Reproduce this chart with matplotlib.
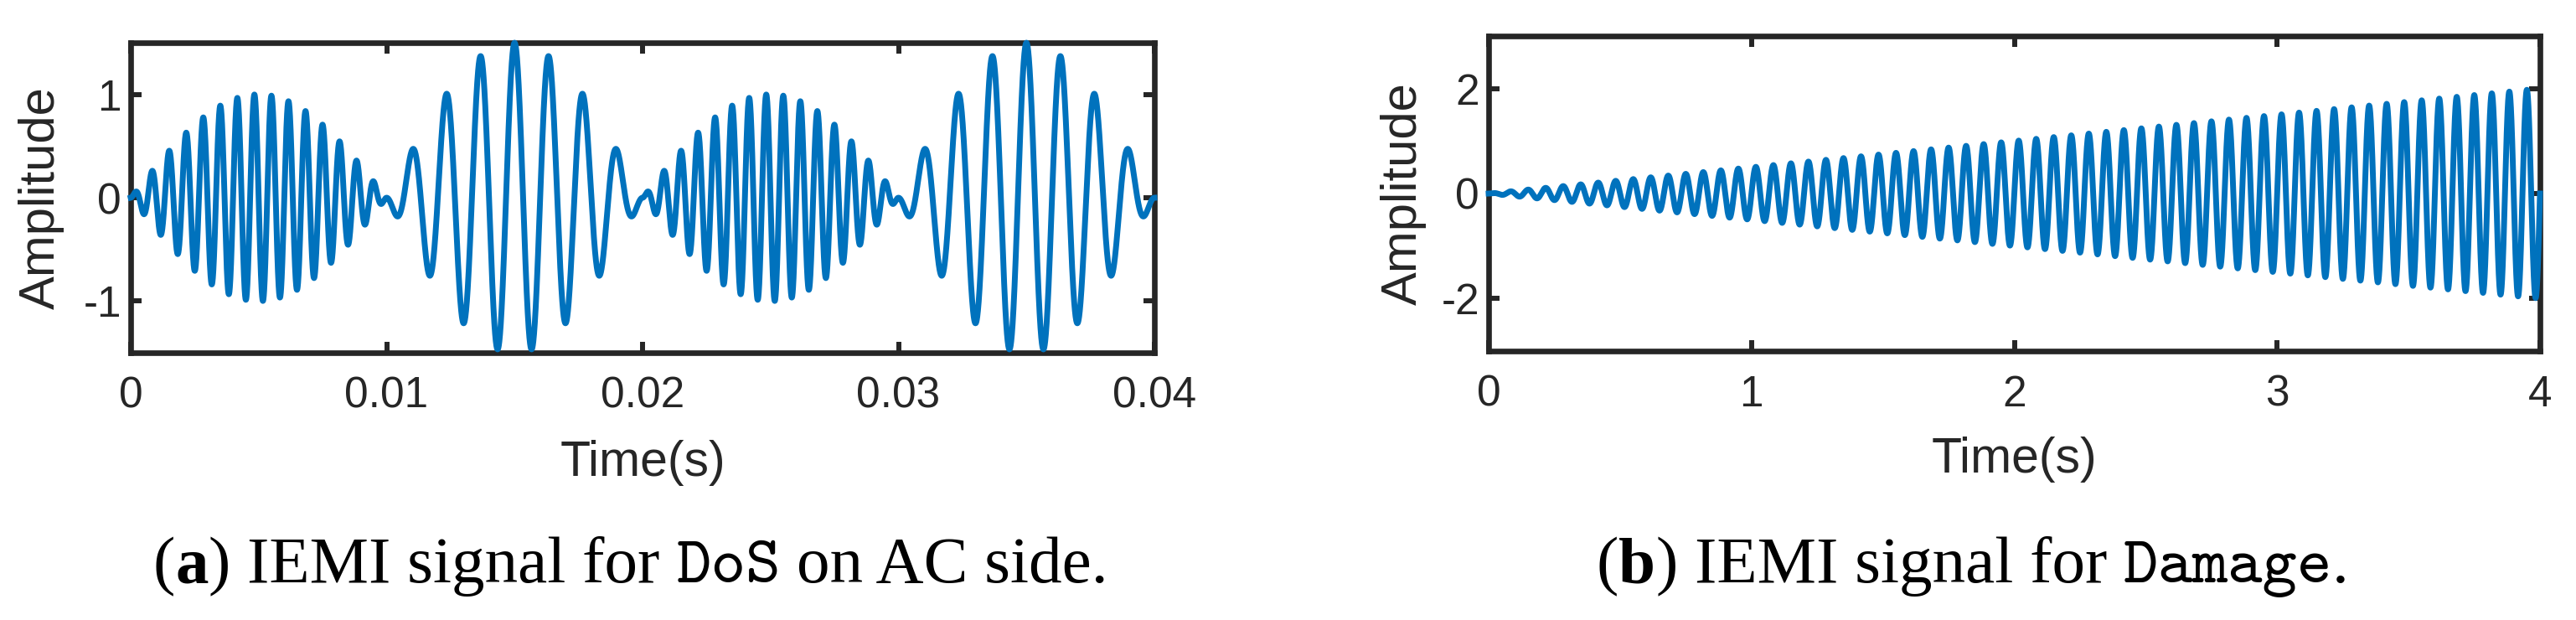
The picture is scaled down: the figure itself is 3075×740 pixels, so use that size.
import numpy as np
import matplotlib
matplotlib.use("Agg")
import matplotlib.pyplot as plt
from matplotlib.transforms import IdentityTransform

plt.rcParams["axes.unicode_minus"] = False

# ---------------- data ----------------
# (a) DoS signal: 50 Hz half-wave envelope, different carrier in each half-wave
dos_t_range = [0.0, 0.04]            # s
dos_env_hz = 50                       # envelope frequency
dos_carrier_hz = [1500, 750]          # carrier in positive / negative half-wave
dos_peak_amp = [1.0, 1.5]             # peak amplitude in positive / negative half-wave

# (b) Damage signal: linearly growing sine
dmg_t_range = [0.0, 4.0]              # s
dmg_carrier_hz = 15
dmg_amp_range = [0.0, 2.0]            # envelope at start / end

left_xticks = [0, 0.01, 0.02, 0.03, 0.04]
left_xticklabels = ["0", "0.01", "0.02", "0.03", "0.04"]
left_yticks = [-1, 0, 1]
left_ylim = [-1.5, 1.5]

right_xticks = [0, 1, 2, 3, 4]
right_xticklabels = ["0", "1", "2", "3", "4"]
right_yticks = [-2, 0, 2]
right_ylim = [-3, 3]

x_label = "Time(s)"
y_label = "Amplitude"

# ---------------- signals ----------------
t1 = np.linspace(dos_t_range[0], dos_t_range[1], 8001)
env = np.sin(2 * np.pi * dos_env_hz * t1)
y1 = (dos_peak_amp[0] * np.clip(env, 0, None) * np.sin(2 * np.pi * dos_carrier_hz[0] * t1)
      + dos_peak_amp[1] * np.clip(-env, 0, None) * np.sin(2 * np.pi * dos_carrier_hz[1] * t1))

t2 = np.linspace(dmg_t_range[0], dmg_t_range[1], 20001)
amp2 = dmg_amp_range[0] + (dmg_amp_range[1] - dmg_amp_range[0]) * (t2 - t2[0]) / (t2[-1] - t2[0])
y2 = amp2 * np.sin(2 * np.pi * dmg_carrier_hz * t2)

# ---------------- figure ----------------
W, H, DPI = 3075, 740, 100
fig = plt.figure(figsize=(W / DPI, H / DPI), dpi=DPI)
fig.patch.set_facecolor("white")

LINE = "#0072BD"
AX = "#262626"
SANS = "Liberation Sans"


def px_axes(x0, x1, ytop, ybot):
    return fig.add_axes([x0 / W, (H - ybot) / H, (x1 - x0) / W, (ybot - ytop) / H])


def style(ax, xticks, xticklabels, yticks, xlim, ylim, ylab_x, xlab_y):
    ax.set_xlim(xlim)
    ax.set_ylim(ylim)
    ax.set_xticks(xticks)
    ax.set_xticklabels(xticklabels)
    ax.set_yticks(yticks)
    for sp in ax.spines.values():
        sp.set_linewidth(4.8)
        sp.set_color(AX)
    ax.tick_params(direction="in", length=9.4, width=4.3, top=True, right=True,
                   colors=AX, labelsize=37)
    ax.tick_params(axis="x", pad=20)
    ax.tick_params(axis="y", pad=8)
    for lab in ax.get_xticklabels() + ax.get_yticklabels():
        lab.set_fontfamily(SANS)
    ax.set_xlabel(x_label, fontsize=42.5, fontfamily=SANS, color=AX)
    ax.set_ylabel(y_label, fontsize=43, fontfamily=SANS, color=AX)
    ax.yaxis.set_label_coords(ylab_x, 0.5)
    ax.xaxis.set_label_coords(0.5, xlab_y)


ax1 = px_axes(156, 1378, 51, 421)
ax1.plot(t1, y1, color=LINE, lw=5.0, clip_on=False, zorder=3)
style(ax1, left_xticks, left_xticklabels, left_yticks, dos_t_range, left_ylim,
      ylab_x=(77 - 156) / 1222, xlab_y=(421 - 525) / 370)

ax2 = px_axes(1777, 3032, 43, 419)
ax2.plot(t2, y2, color=LINE, lw=5.0, clip_on=False, zorder=3)
style(ax2, right_xticks, right_xticklabels, right_yticks, dmg_t_range, right_ylim,
      ylab_x=(1703 - 1777) / 1255, xlab_y=(419 - 521) / 376)

# ---------------- captions (mixed fonts) ----------------
SERIF = "Liberation Serif"
MONO = "cmtt10"
CAP_FS = 57


def caption(pieces, center_x, baseline_y):
    fig.canvas.draw()
    r = fig.canvas.get_renderer()
    objs = []
    widths = []
    for s, fam, wt in pieces:
        if s == " ":
            objs.append(None)
            widths.append(0.25 * CAP_FS * DPI / 72)
            continue
        t = fig.text(0, H - baseline_y, s, transform=IdentityTransform(), fontsize=CAP_FS,
                     fontfamily=fam, fontweight=wt, va="baseline", ha="left", color="black")
        bb = t.get_window_extent(renderer=r)
        objs.append(t)
        widths.append(bb.width)
    total = sum(widths)
    x = center_x - total / 2
    for t, w in zip(objs, widths):
        if t is not None:
            t.set_x(x)
        x += w


caption([("(", SERIF, "normal"), ("a", SERIF, "bold"), (")", SERIF, "normal"), (" ", None, None),
         ("IEMI signal for", SERIF, "normal"), (" ", None, None), ("DoS", MONO, "normal"),
         (" ", None, None), ("on AC side.", SERIF, "normal")], 753, 695)
caption([("(", SERIF, "normal"), ("b", SERIF, "bold"), (")", SERIF, "normal"), (" ", None, None),
         ("IEMI signal for", SERIF, "normal"), (" ", None, None), ("Damage", MONO, "normal"),
         (".", SERIF, "normal")], 2355, 695)

fig.savefig("out.png", dpi=DPI, facecolor="white")
